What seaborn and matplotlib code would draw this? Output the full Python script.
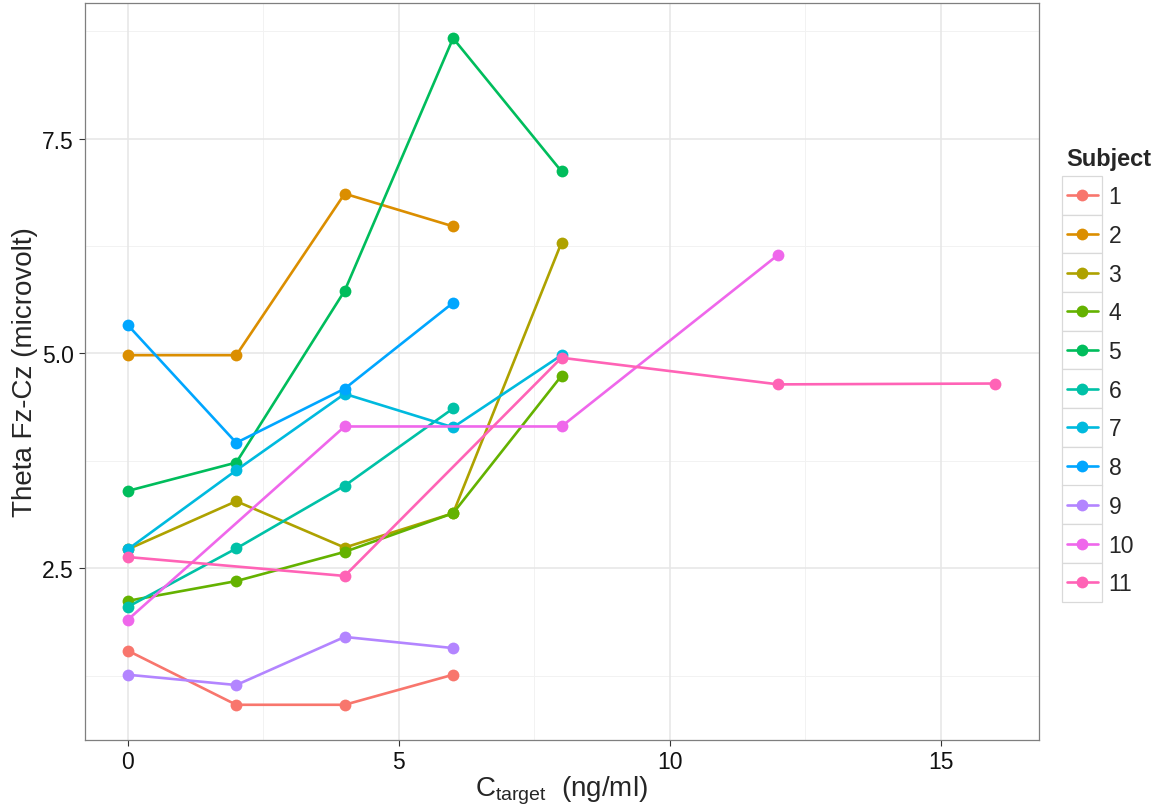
import matplotlib
matplotlib.use("Agg")
import matplotlib.pyplot as plt
import seaborn as sns
import pandas as pd
import numpy as np
from matplotlib.legend_handler import HandlerLine2D
from matplotlib.patches import Rectangle
from matplotlib.lines import Line2D

# ---- data ----
subjects = ["1", "2", "3", "4", "5", "6", "7", "8", "9", "10", "11"]
conc_1 = [0, 2, 4, 6];        theta_1 = [1.54, 0.91, 0.91, 1.26]
conc_2 = [0, 2, 4, 6];        theta_2 = [4.98, 4.98, 6.86, 6.48]
conc_3 = [0, 2, 4, 6, 8];     theta_3 = [2.72, 3.28, 2.74, 3.14, 6.29]
conc_4 = [0, 2, 4, 6, 8];     theta_4 = [2.12, 2.35, 2.69, 3.14, 4.74]
conc_5 = [0, 2, 4, 6, 8];     theta_5 = [3.40, 3.73, 5.73, 8.67, 7.12]
conc_6 = [0, 2, 4, 6];        theta_6 = [2.05, 2.73, 3.46, 4.36]
conc_7 = [0, 2, 4, 6, 8];     theta_7 = [2.72, 3.64, 4.53, 4.14, 4.98]
conc_8 = [0, 2, 4, 6];        theta_8 = [5.33, 3.96, 4.59, 5.59]
conc_9 = [0, 2, 4, 6];        theta_9 = [1.26, 1.14, 1.70, 1.57]
conc_10 = [0, 4, 8, 12];      theta_10 = [1.90, 4.15, 4.15, 6.15]
conc_11 = [0, 4, 8, 12, 16];  theta_11 = [2.63, 2.41, 4.95, 4.64, 4.65]

palette = ["#F8766D", "#DB8E00", "#AEA200", "#64B200", "#00BD5C", "#00C1A7",
           "#00BADE", "#00A6FF", "#B385FF", "#EF67EB", "#FF63B6"]

concs = [conc_1, conc_2, conc_3, conc_4, conc_5, conc_6, conc_7, conc_8, conc_9, conc_10, conc_11]
thetas = [theta_1, theta_2, theta_3, theta_4, theta_5, theta_6, theta_7, theta_8, theta_9, theta_10, theta_11]
rows = []
for s, c, t in zip(subjects, concs, thetas):
    for ci, ti in zip(c, t):
        rows.append({"Subject": s, "conc": ci, "theta": ti})
df = pd.DataFrame(rows)

# ---- figure ----
sns.set_theme(style="white")
plt.rcParams['font.family'] = ['Liberation Sans', 'DejaVu Sans']
fig = plt.figure(figsize=(11.65, 8.12), dpi=100)
ax = fig.add_axes([84.5/1165, 1-741/812, (1038.5-84.5)/1165, (741-4)/812])

# grid
for v in [2.5, 7.5, 12.5]:
    ax.axvline(v, color="#f2f2f2", lw=0.7, zorder=0)
for v in [1.25, 3.75, 6.25, 8.75]:
    ax.axhline(v, color="#f2f2f2", lw=0.7, zorder=0)
ax.grid(True, color="#e6e6e6", lw=1.1, zorder=0)
ax.set_axisbelow(True)

sns.lineplot(data=df, x="conc", y="theta", hue="Subject", hue_order=subjects,
             palette=palette, estimator=None, sort=True, marker="o",
             markersize=8.5, markeredgewidth=0, linewidth=1.9, ax=ax, legend=False)

ax.set_xlim(-0.8, 16.8)
ax.set_ylim(0.50, 9.08)
ax.set_xticks([0, 5, 10, 15])
ax.set_yticks([2.5, 5.0, 7.5])
ax.set_yticklabels(["2.5", "5.0", "7.5"])
ax.tick_params(axis="both", which="major", length=4.5, width=0.8, color="#333333",
               labelsize=16.5, labelcolor="#111111", pad=3, bottom=True, left=True)
for sp in ax.spines.values():
    sp.set_color("#7f7f7f")
    sp.set_linewidth(0.9)

ax.set_xlabel(r"$\mathregular{C_{target}}$  (ng/ml)", fontsize=20, labelpad=0)
ax.set_ylabel("Theta Fz-Cz (microvolt)", fontsize=20, labelpad=3)


class BoxedLine(HandlerLine2D):
    def create_artists(self, legend, orig_handle, xdescent, ydescent, width, height, fontsize, trans):
        arts = super().create_artists(legend, orig_handle, xdescent, ydescent, width, height, fontsize, trans)
        bw, bh = 28.6, 27.9
        cx = -xdescent + width / 2
        cy = -ydescent + height / 2
        rect = Rectangle((cx - bw/2, cy - bh/2), bw, bh, facecolor="white",
                         edgecolor="#d9d9d9", lw=0.9, transform=trans)
        return [rect] + list(arts)


handles = [Line2D([], [], color=c, lw=1.9, marker="o", markersize=8.5, markeredgewidth=0)
           for c in palette]
leg = fig.legend(handles, subjects, title="Subject", loc="upper left",
                 bbox_to_anchor=(1062/1165, 1-143/812), frameon=False,
                 fontsize=16.5, title_fontsize=17, handlelength=1.35,
                 handleheight=0.7, labelspacing=0.685, handletextpad=0.48,
                 borderpad=0.2, borderaxespad=0,
                 handler_map={Line2D: BoxedLine(numpoints=1)})
leg.get_title().set_fontweight("bold")
leg._legend_box.align = "left"

fig.savefig("out.png", dpi=100)
